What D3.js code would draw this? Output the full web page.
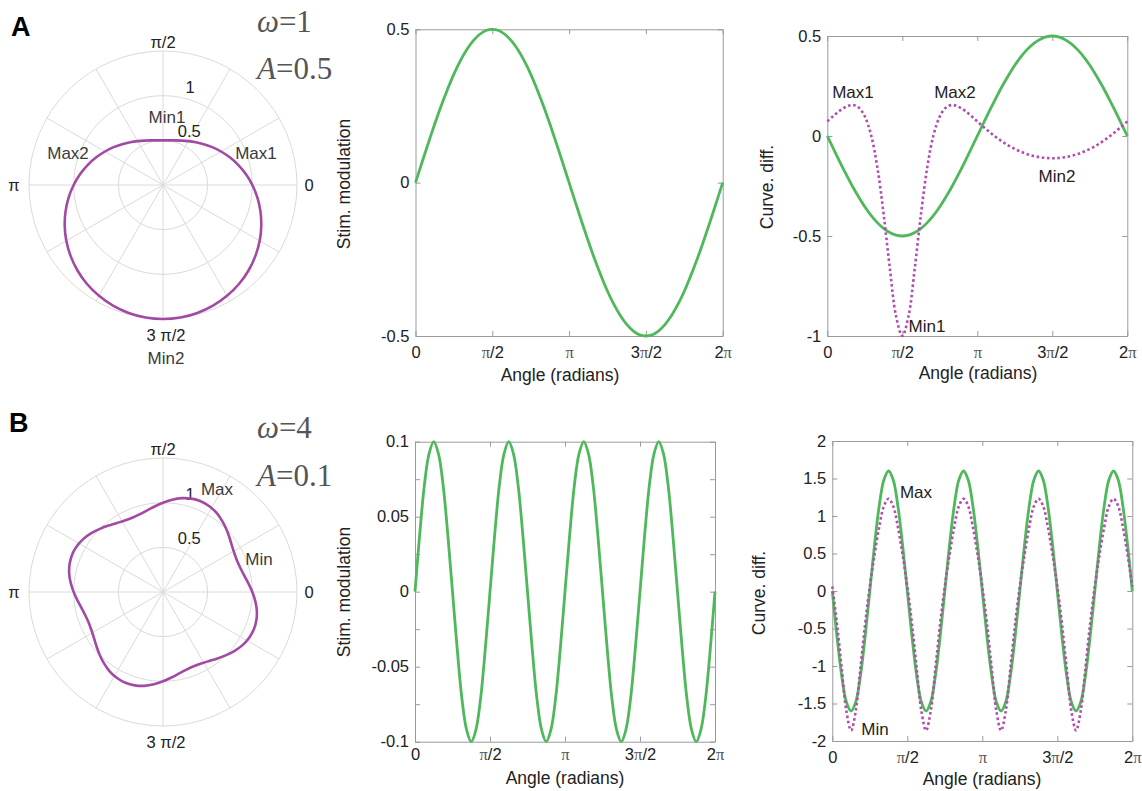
<!DOCTYPE html>
<html><head><meta charset="utf-8">
<script src="https://cdn.jsdelivr.net/npm/d3@7"></script>
<style>
body{margin:0;background:#fff}
svg{font-family:"Liberation Sans",Arial,Helvetica,sans-serif}
</style></head><body>
<svg id="c" width="1142" height="791"></svg>
<script>
// ---------------- data ----------------
const degA = [0,7.5,15,22.5,30,37.5,45,52.5,60,67.5,75,82.5,90,97.5,105,112.5,120,127.5,135,142.5,150,157.5,165,172.5,180,187.5,195,202.5,210,217.5,225,232.5,240,247.5,255,262.5,270,277.5,285,292.5,300,307.5,315,322.5,330,337.5,345,352.5,360];
const stimA = [0,0.065,0.129,0.191,0.25,0.304,0.354,0.397,0.433,0.462,0.483,0.496,0.5,0.496,0.483,0.462,0.433,0.397,0.354,0.304,0.25,0.191,0.129,0.065,0,-0.065,-0.129,-0.191,-0.25,-0.304,-0.354,-0.397,-0.433,-0.462,-0.483,-0.496,-0.5,-0.496,-0.483,-0.462,-0.433,-0.397,-0.354,-0.304,-0.25,-0.191,-0.129,-0.065,0];
const polarRA = [1,0.935,0.871,0.809,0.75,0.696,0.646,0.603,0.567,0.538,0.517,0.504,0.5,0.504,0.517,0.538,0.567,0.603,0.646,0.696,0.75,0.809,0.871,0.935,1,1.065,1.129,1.191,1.25,1.304,1.354,1.397,1.433,1.462,1.483,1.496,1.5,1.496,1.483,1.462,1.433,1.397,1.354,1.304,1.25,1.191,1.129,1.065,1];
const diffGreenA = [0,-0.065,-0.129,-0.191,-0.25,-0.304,-0.354,-0.397,-0.433,-0.462,-0.483,-0.496,-0.5,-0.496,-0.483,-0.462,-0.433,-0.397,-0.354,-0.304,-0.25,-0.191,-0.129,-0.065,0,0.065,0.129,0.191,0.25,0.304,0.354,0.397,0.433,0.462,0.483,0.496,0.5,0.496,0.483,0.462,0.433,0.397,0.354,0.304,0.25,0.191,0.129,0.065,0];
const diffDotA = [0.073,0.101,0.127,0.146,0.155,0.143,0.098,0.005,-0.155,-0.387,-0.66,-0.9,-1.0,-0.9,-0.66,-0.387,-0.155,0.005,0.098,0.143,0.155,0.146,0.127,0.101,0.073,0.045,0.019,-0.006,-0.028,-0.048,-0.065,-0.079,-0.091,-0.1,-0.106,-0.11,-0.111,-0.11,-0.106,-0.1,-0.091,-0.079,-0.065,-0.048,-0.028,-0.006,0.019,0.045,0.073];

const degB = [0,5.625,11.25,16.875,22.5,28.125,33.75,39.375,45,50.625,56.25,61.875,67.5,73.125,78.75,84.375,
 90,95.625,101.25,106.875,112.5,118.125,123.75,129.375,135,140.625,146.25,151.875,157.5,163.125,168.75,174.375,
 180,185.625,191.25,196.875,202.5,208.125,213.75,219.375,225,230.625,236.25,241.875,247.5,253.125,258.75,264.375,
 270,275.625,281.25,286.875,292.5,298.125,303.75,309.375,315,320.625,326.25,331.875,337.5,343.125,348.75,354.375,360];
const stimB = [0,0.038,0.071,0.092,0.1,0.092,0.071,0.038,0,-0.038,-0.071,-0.092,-0.1,-0.092,-0.071,-0.038,
 0,0.038,0.071,0.092,0.1,0.092,0.071,0.038,0,-0.038,-0.071,-0.092,-0.1,-0.092,-0.071,-0.038,
 0,0.038,0.071,0.092,0.1,0.092,0.071,0.038,0,-0.038,-0.071,-0.092,-0.1,-0.092,-0.071,-0.038,
 0,0.038,0.071,0.092,0.1,0.092,0.071,0.038,0,-0.038,-0.071,-0.092,-0.1,-0.092,-0.071,-0.038,0];
const polarRB = [1,0.962,0.929,0.908,0.9,0.908,0.929,0.962,1,1.038,1.071,1.092,1.1,1.092,1.071,1.038,
 1,0.962,0.929,0.908,0.9,0.908,0.929,0.962,1,1.038,1.071,1.092,1.1,1.092,1.071,1.038,
 1,0.962,0.929,0.908,0.9,0.908,0.929,0.962,1,1.038,1.071,1.092,1.1,1.092,1.071,1.038,
 1,0.962,0.929,0.908,0.9,0.908,0.929,0.962,1,1.038,1.071,1.092,1.1,1.092,1.071,1.038,1];
const diffGreenB = [0,-0.61,-1.13,-1.48,-1.6,-1.48,-1.13,-0.61,0,0.61,1.13,1.48,1.6,1.48,1.13,0.61,
 0,-0.61,-1.13,-1.48,-1.6,-1.48,-1.13,-0.61,0,0.61,1.13,1.48,1.6,1.48,1.13,0.61,
 0,-0.61,-1.13,-1.48,-1.6,-1.48,-1.13,-0.61,0,0.61,1.13,1.48,1.6,1.48,1.13,0.61,
 0,-0.61,-1.13,-1.48,-1.6,-1.48,-1.13,-0.61,0,0.61,1.13,1.48,1.6,1.48,1.13,0.61,0];
const diffDotB = [0.06,-0.44,-1.03,-1.6,-1.86,-1.6,-1.03,-0.44,0.06,0.48,0.85,1.13,1.23,1.13,0.85,0.48,
 0.06,-0.44,-1.03,-1.6,-1.86,-1.6,-1.03,-0.44,0.06,0.48,0.85,1.13,1.23,1.13,0.85,0.48,
 0.06,-0.44,-1.03,-1.6,-1.86,-1.6,-1.03,-0.44,0.06,0.48,0.85,1.13,1.23,1.13,0.85,0.48,
 0.06,-0.44,-1.03,-1.6,-1.86,-1.6,-1.03,-0.44,0.06,0.48,0.85,1.13,1.23,1.13,0.85,0.48,0.06];

const xTickPi = [0,0.5,1,1.5,2];
const xTickLabels = ["0","π/2","π","3π/2","2π"];
const polarAngleTicks = [0,90,180,270];
const polarAngleLabels = ["0","π/2","π","3 π/2"];
const polarSpokes = [0,30,60,90,120,150,180,210,240,270,300,330];
const polarRings = [0.5,1,1.5];
const polarRLabels = [0.5,1];
const yTicksStimA = [-0.5,0,0.5], yLabStimA = ["-0.5","0","0.5"];
const yTicksDiffA = [-1,-0.5,0,0.5], yLabDiffA = ["-1","-0.5","0","0.5"];
const yTicksStimB = [-0.1,-0.075,-0.05,-0.025,0,0.025,0.05,0.075,0.1], yLabStimB = ["-0.1","","-0.05","","0","","0.05","","0.1"];
const yTicksDiffB = [-2,-1.5,-1,-0.5,0,0.5,1,1.5,2], yLabDiffB = ["-2","-1.5","-1","-0.5","0","0.5","1","1.5","2"];

// ---------------- style ----------------
const GREEN = "#4fb85b", DOT = "#b24cad", PURPLE = "#a24aa3", AXC = "#9a9a9a", GRID = "#dadada";
const svg = d3.select("#c");
const rad = d => d * Math.PI / 180;

// ---------------- polar ----------------
function polar(cx, cy, R, rData, degs, annos) {
  const g = svg.append("g").attr("transform", `translate(${cx},${cy})`);
  const r = d3.scaleLinear([0, 1.5], [0, R]);
  g.selectAll("circle.ring").data(polarRings).join("circle")
    .attr("r", d => r(d)).attr("fill", "none").attr("stroke", GRID).attr("stroke-width", 1);
  g.selectAll("line.spoke").data(polarSpokes).join("line")
    .attr("x1", 0).attr("y1", 0)
    .attr("x2", d => r(1.5) * Math.cos(rad(d))).attr("y2", d => -r(1.5) * Math.sin(rad(d)))
    .attr("stroke", GRID).attr("stroke-width", 1);
  const off = {0: [r(1.5) + 12, 0], 90: [0, -(r(1.5) + 9)], 180: [-(r(1.5) + 15), 0], 270: [3, r(1.5) + 16]};
  g.selectAll("text.ang").data(polarAngleTicks).join("text")
    .attr("x", d => off[d][0]).attr("y", d => off[d][1]).attr("dy", "0.35em")
    .attr("text-anchor", "middle").attr("font-size", 16.5).attr("fill", "#222")
    .text((d, i) => polarAngleLabels[i]);
  g.selectAll("text.rl").data(polarRLabels).join("text")
    .attr("x", d => r(d) * Math.cos(rad(80)) + 7).attr("y", d => -r(d) * Math.sin(rad(80)) - 4)
    .attr("font-size", 16.5).attr("fill", "#222").text(d => d);
  const pts = degs.slice(0, -1).map((d, i) => [d, rData[i]]);
  const line = d3.lineRadial().angle(p => Math.PI / 2 - rad(p[0])).radius(p => r(p[1]))
    .curve(d3.curveCatmullRomClosed);
  g.append("path").attr("d", line(pts)).attr("fill", "none").attr("stroke", PURPLE).attr("stroke-width", 2.6);
  annos.forEach(a => g.append("text").attr("x", a[1] - cx).attr("y", a[2] - cy).attr("dy", "0.35em")
    .attr("text-anchor", "middle").attr("font-size", 17).attr("fill", "#3a3a3a").text(a[0]));
}

// ---------------- cartesian ----------------
function cart(o) {
  const g = svg.append("g");
  const x = d3.scaleLinear([0, 2 * Math.PI], [o.x0, o.x1]);
  const y = d3.scaleLinear(o.yDom, [o.y1, o.y0]);
  const tv = xTickPi.map(v => v * Math.PI);
  const style = sel => {
    sel.select(".domain").attr("stroke", AXC);
    sel.selectAll(".tick line").attr("stroke", AXC);
    sel.selectAll(".tick text").attr("fill", "#222").attr("font-size", 16.5).attr("font-family", "Liberation Sans, Arial, sans-serif");
  };
  const bx = g.append("g").attr("transform", `translate(0,${o.y1})`)
    .call(d3.axisBottom(x).tickValues(tv).tickFormat((d, i) => xTickLabels[i]).tickSizeInner(-5).tickSizeOuter(0).tickPadding(o.xPad))
    .call(style);
  bx.selectAll(".tick text").each(function (d, i) {
    const s = xTickLabels[i], t = d3.select(this); t.text(null);
    s.split(/(π)/).filter(p => p.length).forEach(p => {
      const ts = t.append("tspan").text(p);
      if (p === "π") ts.attr("font-family", "Liberation Serif, serif").attr("fill", "#555");
    });
  });
  g.append("g").attr("transform", `translate(0,${o.y0})`)
    .call(d3.axisTop(x).tickValues(tv).tickFormat("").tickSizeInner(-5).tickSizeOuter(0)).call(style);
  g.append("g").attr("transform", `translate(${o.x0},0)`)
    .call(d3.axisLeft(y).tickValues(o.yTicks).tickFormat((d, i) => o.yLabs[i]).tickSizeInner(-5).tickSizeOuter(0).tickPadding(6))
    .call(style);
  g.append("g").attr("transform", `translate(${o.x1},0)`)
    .call(d3.axisRight(y).tickValues(o.yTicks).tickFormat("").tickSizeInner(-5).tickSizeOuter(0)).call(style);
  o.series.forEach(s => {
    const pts = o.degs.map((d, i) => [rad(d), s.v[i]]);
    const line = d3.line().x(p => x(p[0])).y(p => y(p[1])).curve(d3.curveCatmullRom);
    const p = g.append("path").attr("d", line(pts)).attr("fill", "none").attr("stroke", s.c)
      .attr("stroke-width", s.dot ? 2.6 : 2.8);
    if (s.dot) p.attr("stroke-dasharray", "2.6,2.6");
  });
  g.append("text").attr("transform", `translate(${o.ylx},${o.yly}) rotate(-90)`)
    .attr("text-anchor", "middle").attr("font-size", 17.5).attr("fill", "#222").text(o.ylab);
  g.append("text").attr("x", o.xlx).attr("y", o.xly).attr("text-anchor", "middle")
    .attr("font-size", 17.5).attr("fill", "#222").text("Angle (radians)");
  (o.annos || []).forEach(a => g.append("text").attr("x", a[1]).attr("y", a[2]).attr("dy", "0.35em")
    .attr("text-anchor", "middle").attr("font-size", 17).attr("fill", "#222").text(a[0]));
}

// ---- Row A ----
polar(163, 185, 134, polarRA, degA, [["Min1", 167, 117], ["Max2", 68, 153], ["Max1", 256, 153], ["Min2", 166, 358]]);
cart({x0: 415.5, x1: 722.7, y0: 29.3, y1: 336, yDom: [-0.5, 0.5], yTicks: yTicksStimA, yLabs: yLabStimA,
  degs: degA, series: [{v: stimA, c: GREEN}], xPad: 10.5, ylab: "Stim. modulation", ylx: 350, yly: 184,
  xlx: 560, xly: 380.5});
cart({x0: 827.3, x1: 1127.3, y0: 36, y1: 336, yDom: [-1, 0.5], yTicks: yTicksDiffA, yLabs: yLabDiffA,
  degs: degA, series: [{v: diffGreenA, c: GREEN}, {v: diffDotA, c: DOT, dot: true}], xPad: 10.5,
  ylab: "Curve. diff.", ylx: 773, yly: 187, xlx: 978, xly: 379,
  annos: [["Max1", 853, 92], ["Max2", 955, 92], ["Min2", 1057, 176], ["Min1", 927, 326]]});

// ---- Row B ----
polar(163, 592, 134, polarRB, degB, [["Max", 217, 489], ["Min", 259, 559]]);
cart({x0: 415, x1: 715, y0: 441.7, y1: 741.7, yDom: [-0.1, 0.1], yTicks: yTicksStimB, yLabs: yLabStimB,
  degs: degB, series: [{v: stimB, c: GREEN}], xPad: 7, ylab: "Stim. modulation", ylx: 350, yly: 592,
  xlx: 565, xly: 784});
cart({x0: 832.3, x1: 1132.3, y0: 441, y1: 741, yDom: [-2, 2], yTicks: yTicksDiffB, yLabs: yLabDiffB,
  degs: degB, series: [{v: diffGreenB, c: GREEN}, {v: diffDotB, c: DOT, dot: true}], xPad: 10.5,
  ylab: "Curve. diff.", ylx: 765, yly: 593, xlx: 982, xly: 785,
  annos: [["Max", 916, 492], ["Min", 875, 729]]});

// ---- panel letters & parameters ----
svg.append("text").attr("x", 11).attr("y", 36).attr("font-size", 27).attr("font-weight", "bold").attr("fill", "#000").text("A");
svg.append("text").attr("x", 9).attr("y", 432).attr("font-size", 27).attr("font-weight", "bold").attr("fill", "#000").text("B");
function param(x, yb, sym, val) {
  const t = svg.append("text").attr("x", x).attr("y", yb).attr("font-family", "Liberation Serif, Times New Roman, serif")
    .attr("font-size", 31).attr("fill", "#555");
  t.append("tspan").attr("font-style", "italic").text(sym);
  t.append("tspan").text("=" + val);
}
param(257, 32, "ω", "1");
param(257, 79, "A", "0.5");
param(257, 438, "ω", "4");
param(257, 486, "A", "0.1");
</script>
</body></html>
